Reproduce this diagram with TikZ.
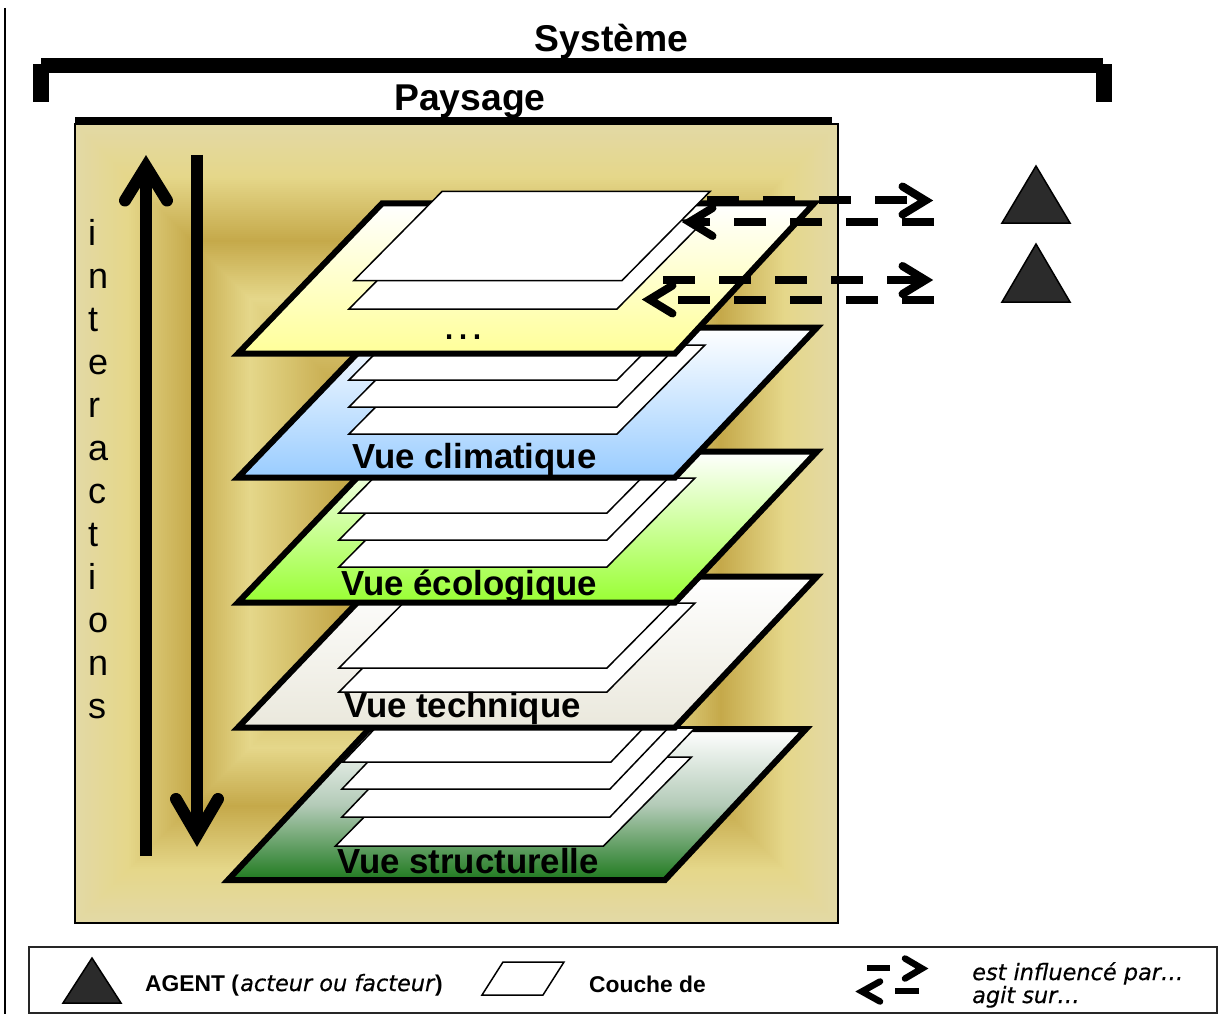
\documentclass[tikz,border=0pt]{standalone}
\usepackage{fontspec}
\setmainfont{Liberation Sans}
\newfontfamily\versub[FakeBold=0.5]{DejaVu Sans}
\definecolor{edgeA}{HTML}{E3D9A5}
\definecolor{lightB}{HTML}{E5D78A}
\definecolor{darkC}{HTML}{C5A94A}
\definecolor{agentfill}{HTML}{2B2B2B}
\definecolor{yellowL}{HTML}{FFFF99}
\definecolor{blueL}{HTML}{99CCFF}
\definecolor{greenL}{HTML}{99FF33}
\definecolor{techL}{HTML}{EAE8DC}
\definecolor{structL}{HTML}{1F7A1F}
\definecolor{structM}{HTML}{B4CBB8}
\tikzset{
  x=1pt,y=-1pt,
  layerbox/.style={draw=black,line width=6pt,line join=miter,top color=white},
  sheetbox/.style={draw=black,line width=1.5pt,fill=white,line join=miter},
  agent/.style={draw=black,line width=1.5pt,fill=agentfill,line join=miter},
  bigtitle/.style={inner sep=0pt,anchor=base,font=\fontsize{37.3}{37.3}\selectfont\bfseries},
  viewlabel/.style={inner sep=0pt,anchor=base west,font=\fontsize{34.8}{34.8}\selectfont\bfseries},
  legendbold/.style={inner sep=0pt,anchor=base west,font=\fontsize{22.8}{22.8}\selectfont\bfseries},
  legendital/.style={inner sep=0pt,anchor=base west,font=\versub\fontsize{22.4}{22.4}\selectfont\itshape},
  dashline/.style={line width=8pt,dash pattern=on 32pt off 24pt},
  chevron/.style={line width=8pt,line cap=round,line join=miter},
  bigarrow/.style={line width=12pt,line cap=butt},
  bigchevron/.style={line width=12pt,line cap=round,line join=miter},
  legchevron/.style={line width=6.5pt,line cap=round,line join=miter},
}
\newcommand{\sheetat}[2]{\draw[sheetbox] (#1,#2) -- ++(268,0) -- ++(88,-89) -- ++(-268,0) -- cycle;}
\newcommand{\sheetst}[2]{\draw[sheetbox] (#1,#2) -- ++(268,0) -- ++(85,-89) -- ++(-268,0) -- cycle;}
\begin{document}
\begin{tikzpicture}
\useasboundingbox (0,0) rectangle (1227,1014);
\fill[white] (0,0) rectangle (1227,1014);

% page rule
\draw[black,line width=2pt] (5,8) -- (5,1014);

% background with nested rectangular gradient
\foreach \ta/\tb/\ca/\cb in {0/52/edgeA/lightB,52/116/lightB/darkC,116/174/darkC/lightB,174/265/lightB/darkC,265/381/darkC/darkC}{
  \pgfmathsetmacro{\nsteps}{int((\tb-\ta)/2)}
  \foreach \k in {0,...,\nsteps}{
    \pgfmathsetmacro{\tt}{\ta+2*\k}
    \pgfmathsetmacro{\pp}{100-100*\k/\nsteps}
    \fill[\ca!\pp!\cb] (75+\tt,124+\tt) rectangle (838-\tt,923-\tt);
  }
}
\draw[black,line width=1.5pt] (75,124) rectangle (838,923);

% brackets
\fill[black] (41,58) rectangle (1103,73);
\fill[black] (33,64) rectangle (49,102);
\fill[black] (1096,64) rectangle (1112,102);
\fill[black] (75,117) rectangle (832,125);
\node[bigtitle] (systeme) at (611.5,52) {Système};
\node[bigtitle,anchor=base west] (paysage) at (394,111) {Paysage};

% structural view
\draw[layerbox,bottom color=structL,middle color=structM] (228,880) -- (665,880) -- (806,729) -- (369,729) -- cycle;
\sheetat{335.5}{846}
\sheetst{342}{817}
\sheetst{342}{789}
\sheetst{343}{762}
\node[viewlabel] (vs) at (337,873) {Vue structurelle};

% technical view
\draw[layerbox,bottom color=techL] (238,727.5) -- (675,727.5) -- (817,576.5) -- (382,576.5) -- cycle;
\sheetat{339}{692}
\sheetat{339}{668}
\node[viewlabel] (vt) at (344,717.5) {Vue technique};

% ecological view
\draw[layerbox,bottom color=greenL] (238,602.5) -- (675,602.5) -- (817,451.5) -- (382,451.5) -- cycle;
\sheetat{339}{567}
\sheetat{339}{540}
\sheetat{339}{513}
\node[viewlabel] (ve) at (341,595.5) {Vue écologique};

% climatic view
\draw[layerbox,bottom color=blueL] (238,477.5) -- (675,477.5) -- (817,327.5) -- (382,327.5) -- cycle;
\sheetat{349}{434}
\sheetat{349}{407}
\sheetat{349}{380}
\node[viewlabel] (vc) at (352,468.5) {Vue climatique};

% top view
\draw[layerbox,bottom color=yellowL] (238,353.5) -- (675,353.5) -- (814,203.5) -- (382,203.5) -- cycle;
\sheetat{349}{309}
\sheetat{354}{280.5}
\node[inner sep=0pt,anchor=base,font=\fontsize{44}{44}\selectfont] (dots) at (463,339) {…};

% interactions
\node[inner sep=0pt,anchor=north west,align=left,font=\fontsize{36}{43}\selectfont] (inter) at (88,219.5) {i\\n\\t\\e\\r\\a\\c\\t\\i\\o\\n\\s};

% vertical arrows
\coordinate (upS) at (146,856);
\coordinate (upT) at (146,166.5);
\coordinate (dnS) at (197,155);
\coordinate (dnT) at (197,835);
\draw[bigarrow] (upS) -- (upT);
\draw[bigchevron] (upT) ++(-21,34) -- (upT) -- ++(21,34);
\draw[bigarrow] (dnS) -- (dnT);
\draw[bigchevron] (dnT) ++(-21,-36) -- (dnT) -- ++(21,-36);

% agents
\draw[agent] (1036,166) -- (1070,223) -- (1002,223) -- cycle;
\draw[agent] (1036,244) -- (1070,302) -- (1002,302) -- cycle;

% dashed arrows
\coordinate (a1S) at (707,200.5);
\coordinate (a1T) at (925.5,200.5);
\coordinate (a2S) at (934,222);
\coordinate (a2T) at (689.5,222);
\coordinate (a3S) at (663,280);
\coordinate (a3T) at (925.5,280);
\coordinate (a4S) at (934,299.5);
\coordinate (a4T) at (649.5,299.5);
\draw[dashline] (a1S) -- (a1T);
\draw[chevron] (a1T) ++(-23,-14) -- (a1T) -- ++(-23,14);
\draw[dashline] (a2S) -- (a2T);
\draw[chevron] (a2T) ++(23,-14) -- (a2T) -- ++(23,14);
\draw[dashline] (a3S) -- (a3T);
\draw[chevron] (a3T) ++(-23,-14) -- (a3T) -- ++(-23,14);
\draw[dashline] (a4S) -- (a4T);
\draw[chevron] (a4T) ++(23,-14) -- (a4T) -- ++(23,14);

% legend
\draw[black!85,line width=2pt] (29,946.5) rectangle (1217,1013);
\draw[agent] (92,958) -- (121,1003) -- (63,1003) -- cycle;
\node[legendbold] (agentlbl) at (145,991) {AGENT (};
\node[legendital] (agentit) at (240,991) {acteur ou facteur};
\node[legendbold] (agentcl) at (435,991) {)};
\draw[black,line width=1.5pt] (482,995) -- (543,995) -- (564,962) -- (503,962) -- cycle;
\node[legendbold] (couche) at (589,992) {Couche de};
\coordinate (l1S) at (867,968);
\coordinate (l1E) at (890,968);
\coordinate (l1T) at (922,968.5);
\coordinate (l2S) at (919,991);
\coordinate (l2E) at (895,991);
\coordinate (l2T) at (862,991.5);
\draw[line width=6pt] (l1S) -- (l1E);
\draw[legchevron] (l1T) ++(-17,-10) -- (l1T) -- ++(-17,10);
\draw[line width=6pt] (l2S) -- (l2E);
\draw[legchevron] (l2T) ++(18,-10) -- (l2T) -- ++(18,10);
\node[legendital] (inf) at (972,980) {est influencé par…};
\node[legendital] (agit) at (972,1003) {agit sur…};
\end{tikzpicture}
\end{document}
